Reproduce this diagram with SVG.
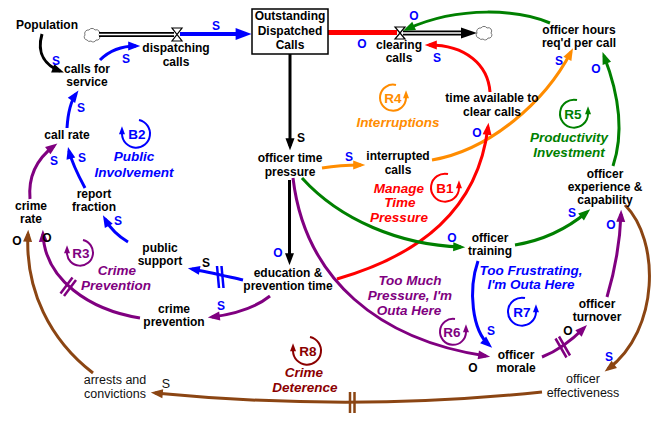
<svg xmlns="http://www.w3.org/2000/svg" width="661" height="434" viewBox="0 0 661 434">
  <defs>
    <style>
      text { font-family: "Liberation Sans", Arial, Helvetica, sans-serif; text-anchor: middle; }
      .n { font-size: 12px; font-weight: bold; fill: #000; }
      .nr { font-size: 12.5px; fill: #111; }
      .p { font-size: 12px; font-weight: bold; }
      .pb { fill: #0000ff; }
      .pk { fill: #000; }
      .lid { font-size: 13.5px; font-weight: bold; }
      .lt { font-size: 13.5px; font-weight: bold; font-style: italic; }
      .lk { fill: none; stroke-width: 3; }
      .lp { fill: none; stroke-width: 2; }
      .k { stroke: #000; } .b { stroke: #0000ff; } .r { stroke: #ff0000; } .g { stroke: #008000; }
      .o { stroke: #ff8c00; } .u { stroke: #800080; } .w { stroke: #8b4513; } .d { stroke: #8b0000; }
      .fb { fill: #0000ff; } .fr { fill: #ff0000; } .fg { fill: #008000; } .fo { fill: #ff8c00; }
      .fu { fill: #800080; } .fd { fill: #8b0000; }
      .cloud { fill: #fff; stroke: #777; stroke-width: 1; }
      .valve { fill: #fff; stroke: #000; stroke-width: 1.2; }
      .dl { fill: none; stroke-width: 2.5; }
    </style>
    <!-- arrowheads sized relative to the stroke width -->
    <marker id="ak" markerUnits="strokeWidth" markerWidth="4" markerHeight="3" refX="2.6" refY="1.5" orient="auto" overflow="visible"><path d="M0,0 L4,1.5 L0,3 z" fill="#000"/></marker>
    <marker id="ab" markerUnits="strokeWidth" markerWidth="4" markerHeight="3" refX="2.6" refY="1.5" orient="auto" overflow="visible"><path d="M0,0 L4,1.5 L0,3 z" fill="#0000ff"/></marker>
    <marker id="ar" markerUnits="strokeWidth" markerWidth="4" markerHeight="3" refX="2.6" refY="1.5" orient="auto" overflow="visible"><path d="M0,0 L4,1.5 L0,3 z" fill="#ff0000"/></marker>
    <marker id="ag" markerUnits="strokeWidth" markerWidth="4" markerHeight="3" refX="2.6" refY="1.5" orient="auto" overflow="visible"><path d="M0,0 L4,1.5 L0,3 z" fill="#008000"/></marker>
    <marker id="ao" markerUnits="strokeWidth" markerWidth="4" markerHeight="3" refX="2.6" refY="1.5" orient="auto" overflow="visible"><path d="M0,0 L4,1.5 L0,3 z" fill="#ff8c00"/></marker>
    <marker id="au" markerUnits="strokeWidth" markerWidth="4" markerHeight="3" refX="2.6" refY="1.5" orient="auto" overflow="visible"><path d="M0,0 L4,1.5 L0,3 z" fill="#800080"/></marker>
    <marker id="aw" markerUnits="strokeWidth" markerWidth="4" markerHeight="3" refX="2.6" refY="1.5" orient="auto" overflow="visible"><path d="M0,0 L4,1.5 L0,3 z" fill="#8b4513"/></marker>
    <marker id="ad" markerUnits="strokeWidth" markerWidth="4" markerHeight="3" refX="2.6" refY="1.5" orient="auto" overflow="visible"><path d="M0,0 L4,1.5 L0,3 z" fill="#8b0000"/></marker>
    <path id="cloudShape" d="M-5,5 A3,3 0 0 1 -7,0 A3.6,3.6 0 0 1 -3,-5 A3.6,3.6 0 0 1 3,-5 A3.3,3.3 0 0 1 7,0 A3,3 0 0 1 4,5 A3,3 0 0 1 -1,6 A3,3 0 0 1 -5,5 z"/>
  </defs>

  <rect width="661" height="434" fill="#fff"/>

  <!-- stock and flows -->
  <g id="flows">
    <use href="#cloudShape" class="cloud" transform="translate(92,35)"/>
    <use href="#cloudShape" class="cloud" transform="translate(484,33)"/>
    <line x1="99" y1="34.5" x2="174" y2="34.5" stroke="#000" stroke-width="5"/>
    <line x1="99" y1="34.5" x2="174" y2="34.5" stroke="#fff" stroke-width="1.5"/>
    <line x1="180" y1="34" x2="246" y2="34" stroke="#0000ff" stroke-width="4" marker-end="url(#ab)"/>
    <line x1="328" y1="32.5" x2="397" y2="32.5" stroke="#ff0000" stroke-width="5"/>
    <line x1="403" y1="33" x2="464" y2="33" stroke="#000" stroke-width="5"/>
    <line x1="403" y1="33" x2="464" y2="33" stroke="#fff" stroke-width="1.5"/>
    <polygon points="461,27.5 477,33 461,38.5" fill="#000"/>
    <path class="valve" d="M172,28 L182,28 L172,41 L182,41 z"/>
    <path class="valve" d="M395,27 L405,27 L395,39 L405,39 z"/>
  </g>

  <!-- causal links -->
  <g id="connectors">
    <path class="lk k" d="M42,34 C36,55 47,66 60,71" marker-end="url(#ak)"/>
    <path class="lk b" d="M100,60 C110,50 122,46 136,46" marker-end="url(#ab)"/>
    <path class="lk b" d="M67,128 C68,112 71,101 76,94" marker-end="url(#ab)"/>
    <path class="lk b" d="M85,188 C78,175 72,163 69,151" marker-end="url(#ab)"/>
    <path class="lk u" d="M30,199 C28,176 38,158 54,146" marker-end="url(#au)"/>
    <path class="lk b" d="M128,242 C118,236 110,228 105,219" marker-end="url(#ab)"/>
    <path class="lk b" d="M243,280 C225,276 208,272 192,269" marker-end="url(#ab)"/>
    <path class="lk u" d="M270,296 C255,308 235,314 212,317" marker-end="url(#au)"/>
    <path class="lk u" d="M140,318 C90,310 45,280 43,234" marker-end="url(#au)"/>
    <path class="lk w" stroke-width="2.5" d="M93,373 C50,340 25,290 28,234" marker-end="url(#aw)"/>
    <path class="lk w" d="M542,392 Q352,412 155,393" marker-end="url(#aw)"/>
    <path class="lk w" stroke-width="2.5" d="M625,205 C660,240 660,330 608,369" marker-end="url(#aw)"/>
    <path class="lk k" stroke-width="3.5" d="M290,54 L290,146" marker-end="url(#ak)"/>
    <path class="lk k" stroke-width="3.5" d="M289.5,180 L289.5,261" marker-end="url(#ak)"/>
    <path class="lk o" d="M322,168 Q340,165 361,165" marker-end="url(#ao)"/>
    <path class="lk o" d="M432,160 C490,150 545,102 571,52" marker-end="url(#ao)"/>
    <path class="lk r" d="M337,279 C420,255 478,210 488,127" marker-end="url(#ar)"/>
    <path class="lk r" d="M490,92 C488,65 466,45 429,45" marker-end="url(#ar)"/>
    <path class="lk g" d="M550,23 C520,10 460,5 407,29" marker-end="url(#ag)"/>
    <path class="lk g" d="M613,166 C625,130 618,92 604,56" marker-end="url(#ag)"/>
    <path class="lk g" d="M302,178 C340,220 400,245 461,247" marker-end="url(#ag)"/>
    <path class="lk g" d="M515,245 C545,240 568,228 587,212" marker-end="url(#ag)"/>
    <path class="lk b" d="M478,261 C468,290 472,330 489,345" marker-end="url(#ab)"/>
    <path class="lk u" d="M293,178 C305,280 380,340 486,356" marker-end="url(#au)"/>
    <path class="lk u" d="M542,357 C560,350 572,340 584,328" marker-end="url(#au)"/>
    <path class="lk u" d="M607,297 C615,270 620,242 621,214" marker-end="url(#au)"/>

    <!-- delay marks -->
    <path class="dl b" d="M217,266 L219,288 M221.5,266 L223.5,288"/>
    <path class="dl u" d="M60.5,293.5 L72.5,277.5 M64,296 L76,280"/>
    <path class="dl u" d="M555.5,338.5 L566.5,357.5 M559,336.5 L570,355.5"/>
    <path class="dl w" d="M350,392 L350,413 M354.5,392 L354.5,413"/>

    <!-- link polarities -->
    <g class="p">
      <text class="pb" x="216" y="30">S</text>
      <text class="pb" x="56" y="65">S</text>
      <text class="pb" x="126" y="63">S</text>
      <text class="pb" x="81" y="112">S</text>
      <text class="pb" x="82" y="162">S</text>
      <text class="pb" x="54" y="165">S</text>
      <text class="pb" x="118" y="225">S</text>
      <text class="pk" x="206" y="267">S</text>
      <text class="pb" x="278" y="257">O</text>
      <text class="pb" x="221" y="310">S</text>
      <text class="pk" x="17" y="245">O</text>
      <text class="pk" x="47" y="242">O</text>
      <text class="pk" x="301" y="142">S</text>
      <text class="pb" x="362" y="48">O</text>
      <text class="pb" x="414" y="20">O</text>
      <text class="pb" x="437" y="62">S</text>
      <text class="pb" x="349" y="161">S</text>
      <text class="pb" x="559" y="65">S</text>
      <text class="pb" x="596" y="73">O</text>
      <text class="pb" x="477" y="137">O</text>
      <text class="pb" x="452" y="242">O</text>
      <text class="pb" x="572" y="217">S</text>
      <text class="pb" x="611" y="229">O</text>
      <text class="pb" x="491" y="335">S</text>
      <text class="pk" x="473" y="372">O</text>
      <text class="pk" x="568" y="335">O</text>
      <text class="pb" x="609" y="361">S</text>
    </g>
    <text class="nr" x="166" y="388">S</text>
  </g>

  <!-- variables -->
  <g id="outstanding-dispatched-calls">
    <rect x="252" y="9" width="76" height="45" fill="#fff" stroke="#000" stroke-width="1.5"/>
    <text class="n" x="290" y="20">Outstanding</text>
    <text class="n" x="290" y="35">Dispatched</text>
    <text class="n" x="290" y="49">Calls</text>
  </g>
  <g id="population"><text class="n" x="47" y="29">Population</text></g>
  <g id="dispatching-calls"><text class="n" x="176" y="52">dispatching</text><text class="n" x="176" y="66">calls</text></g>
  <g id="calls-for-service"><text class="n" x="87" y="73">calls for</text><text class="n" x="87" y="86">service</text></g>
  <g id="call-rate"><text class="n" x="67" y="139">call rate</text></g>
  <g id="report-fraction"><text class="n" x="94" y="198">report</text><text class="n" x="94" y="211">fraction</text></g>
  <g id="crime-rate"><text class="n" x="31" y="210">crime</text><text class="n" x="31" y="223">rate</text></g>
  <g id="public-support"><text class="n" x="160" y="252">public</text><text class="n" x="160" y="265">support</text></g>
  <g id="education-prevention-time"><text class="n" x="288" y="277">education &amp;</text><text class="n" x="288" y="290">prevention time</text></g>
  <g id="crime-prevention"><text class="n" x="174" y="313">crime</text><text class="n" x="174" y="326">prevention</text></g>
  <g id="arrests-and-convictions"><text class="nr" x="115" y="384">arrests and</text><text class="nr" x="115" y="398">convictions</text></g>
  <g id="officer-effectiveness"><text class="nr" x="583" y="383">officer</text><text class="nr" x="583" y="397">effectiveness</text></g>
  <g id="officer-turnover"><text class="n" x="597" y="308">officer</text><text class="n" x="597" y="321">turnover</text></g>
  <g id="officer-morale"><text class="n" x="516" y="359">officer</text><text class="n" x="516" y="372">morale</text></g>
  <g id="officer-training"><text class="n" x="490" y="242">officer</text><text class="n" x="490" y="255">training</text></g>
  <g id="officer-experience"><text class="n" x="605" y="178">officer</text><text class="n" x="605" y="191">experience &amp;</text><text class="n" x="605" y="204">capability</text></g>
  <g id="officer-hours"><text class="n" x="579" y="34">officer hours</text><text class="n" x="579" y="47">req'd per call</text></g>
  <g id="time-available"><text class="n" x="492" y="102">time available to</text><text class="n" x="492" y="116">clear calls</text></g>
  <g id="interrupted-calls"><text class="n" x="398" y="160">interrupted</text><text class="n" x="398" y="174">calls</text></g>
  <g id="officer-time-pressure"><text class="n" x="290" y="162">officer time</text><text class="n" x="290" y="176">pressure</text></g>
  <g id="clearing-calls"><text class="n" x="399" y="49">clearing</text><text class="n" x="399" y="62">calls</text></g>

  <!-- feedback loop markers -->
  <g id="loop-B2">
    <path class="lp b" d="M139,120 A14,14 0 1 1 122,134 L122,129" marker-end="url(#ab)"/>
    <text class="lid fb" x="137" y="139">B2</text>
    <text class="lt fb" x="134" y="161">Public</text>
    <text class="lt fb" x="134" y="177">Involvement</text>
  </g>
  <g id="loop-R3">
    <path class="lp u" d="M83,240 A13,13 0 1 1 67,253 L67,248" marker-end="url(#au)"/>
    <text class="lid fu" x="81" y="258">R3</text>
    <text class="lt fu" x="117" y="275">Crime</text>
    <text class="lt fu" x="116" y="290">Prevention</text>
  </g>
  <g id="loop-R4">
    <path class="lp o" d="M396,85 A13,13 0 1 0 406,98 L406,93" marker-end="url(#ao)"/>
    <text class="lid fo" x="393" y="103">R4</text>
    <text class="lt fo" x="398" y="127">Interruptions</text>
  </g>
  <g id="loop-R5">
    <path class="lp g" d="M577,100 A14,14 0 1 0 588,114 L588,109" marker-end="url(#ag)"/>
    <text class="lid fg" x="573" y="119">R5</text>
    <text class="lt fg" x="569" y="142">Productivity</text>
    <text class="lt fg" x="569" y="157">Investment</text>
  </g>
  <g id="loop-B1">
    <path class="lp r" d="M448,174 A14,14 0 1 0 459,188 L459,183" marker-end="url(#ar)"/>
    <text class="lid fr" x="445" y="193">B1</text>
    <text class="lt fr" x="399" y="193">Manage</text>
    <text class="lt fr" x="400" y="207">Time</text>
    <text class="lt fr" x="399" y="222">Pressure</text>
  </g>
  <g id="loop-R6">
    <path class="lp u" d="M455,319 A13,13 0 1 0 466,332 L466,327" marker-end="url(#au)"/>
    <text class="lid fu" x="452" y="337">R6</text>
    <text class="lt fu" x="410" y="285">Too Much</text>
    <text class="lt fu" x="410" y="300">Pressure, I'm</text>
    <text class="lt fu" x="409" y="315">Outa Here</text>
  </g>
  <g id="loop-R7">
    <path class="lp b" d="M525,298 A14,14 0 1 0 536,312 L536,307" marker-end="url(#ab)"/>
    <text class="lid fb" x="522" y="317">R7</text>
    <text class="lt fb" x="531" y="275">Too Frustrating,</text>
    <text class="lt fb" x="531" y="289">I'm Outa Here</text>
  </g>
  <g id="loop-R8">
    <path class="lp d" d="M310,337 A14,14 0 1 1 293,351 L293,346" marker-end="url(#ad)"/>
    <text class="lid fd" x="308" y="356">R8</text>
    <text class="lt fd" x="304" y="377">Crime</text>
    <text class="lt fd" x="305" y="392">Deterence</text>
  </g>
</svg>
